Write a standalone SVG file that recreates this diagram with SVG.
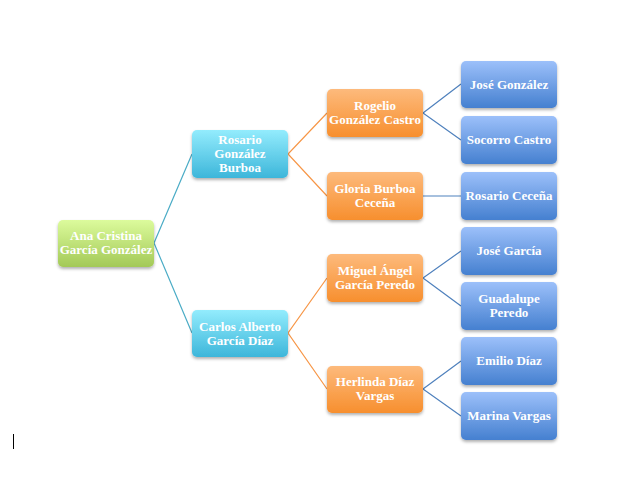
<svg xmlns="http://www.w3.org/2000/svg" width="623" height="491" viewBox="0 0 623 491">
<defs>
<linearGradient id="gGreen" x1="0" y1="0" x2="0" y2="1"><stop offset="0" stop-color="#dcfb9c"/><stop offset="1" stop-color="#a3c957"/></linearGradient>
<linearGradient id="gCyan" x1="0" y1="0" x2="0" y2="1"><stop offset="0" stop-color="#93ecfd"/><stop offset="1" stop-color="#3db6da"/></linearGradient>
<linearGradient id="gOrange" x1="0" y1="0" x2="0" y2="1"><stop offset="0" stop-color="#fdba7c"/><stop offset="1" stop-color="#f78f2e"/></linearGradient>
<linearGradient id="gBlue" x1="0" y1="0" x2="0" y2="1"><stop offset="0" stop-color="#9cc0fa"/><stop offset="1" stop-color="#4580d0"/></linearGradient>
<filter id="sh" x="-10%" y="-10%" width="130%" height="140%"><feDropShadow dx="0" dy="2" stdDeviation="1.5" flood-color="#000" flood-opacity="0.3"/></filter>
</defs>
<style>
.box{filter:url(#sh);}
.t{font-family:"Liberation Serif","DejaVu Serif",serif;font-weight:bold;font-size:13px;fill:#ffffff;text-anchor:middle;}
.c1{stroke:#4bacc6;stroke-width:1.2;fill:none;}
.c2{stroke:#f79646;stroke-width:1.2;fill:none;}
.c3{stroke:#4f81bd;stroke-width:1.2;fill:none;}
</style>
<g id="connectors">
<polyline class="c1" points="192,154 154,243 192,333"/>
<polyline class="c2" points="327,113 288,154 327,196"/>
<polyline class="c2" points="327,278 288,333 327,389"/>
<polyline class="c3" points="461,84 423,113 461,140"/>
<line class="c3" x1="423" y1="196" x2="461" y2="196"/>
<polyline class="c3" points="461,251 423,278 461,306"/>
<polyline class="c3" points="461,361 423,389 461,416"/>
</g>
<g id="n-root"><rect class="box" x="58" y="220" width="96" height="47" rx="5" fill="url(#gGreen)"/><text class="t" x="106" y="240">Ana Cristina</text><text class="t" x="106" y="254">García González</text></g>
<g id="n-rosario"><rect class="box" x="192" y="130" width="96" height="48" rx="5" fill="url(#gCyan)"/><text class="t" x="240" y="144">Rosario</text><text class="t" x="240" y="158">González</text><text class="t" x="240" y="172">Burboa</text></g>
<g id="n-carlos"><rect class="box" x="192" y="310" width="96" height="47" rx="5" fill="url(#gCyan)"/><text class="t" x="240" y="331">Carlos Alberto</text><text class="t" x="240" y="345">García Díaz</text></g>
<g id="n-rogelio"><rect class="box" x="327" y="89" width="96" height="48" rx="5" fill="url(#gOrange)"/><text class="t" x="375" y="110">Rogelio</text><text class="t" x="375" y="124">González Castro</text></g>
<g id="n-gloria"><rect class="box" x="327" y="172" width="96" height="48" rx="5" fill="url(#gOrange)"/><text class="t" x="375" y="193">Gloria Burboa</text><text class="t" x="375" y="207">Ceceña</text></g>
<g id="n-miguel"><rect class="box" x="327" y="254" width="96" height="48" rx="5" fill="url(#gOrange)"/><text class="t" x="375" y="275">Miguel Ángel</text><text class="t" x="375" y="289">García Peredo</text></g>
<g id="n-herlinda"><rect class="box" x="327" y="366" width="96" height="47" rx="5" fill="url(#gOrange)"/><text class="t" x="375" y="386">Herlinda Díaz</text><text class="t" x="375" y="400">Vargas</text></g>
<g id="n-josegonzalez"><rect class="box" x="461" y="61" width="96" height="47" rx="5" fill="url(#gBlue)"/><text class="t" x="509" y="89">José González</text></g>
<g id="n-socorro"><rect class="box" x="461" y="116" width="96" height="48" rx="5" fill="url(#gBlue)"/><text class="t" x="509" y="144">Socorro Castro</text></g>
<g id="n-rosarioc"><rect class="box" x="461" y="172" width="96" height="48" rx="5" fill="url(#gBlue)"/><text class="t" x="509" y="200">Rosario Ceceña</text></g>
<g id="n-josegarcia"><rect class="box" x="461" y="227" width="96" height="48" rx="5" fill="url(#gBlue)"/><text class="t" x="509" y="255">José García</text></g>
<g id="n-guadalupe"><rect class="box" x="461" y="282" width="96" height="48" rx="5" fill="url(#gBlue)"/><text class="t" x="509" y="303">Guadalupe</text><text class="t" x="509" y="317">Peredo</text></g>
<g id="n-emilio"><rect class="box" x="461" y="337" width="96" height="48" rx="5" fill="url(#gBlue)"/><text class="t" x="509" y="365">Emilio Díaz</text></g>
<g id="n-marina"><rect class="box" x="461" y="392" width="96" height="48" rx="5" fill="url(#gBlue)"/><text class="t" x="509" y="420">Marina Vargas</text></g>
<line x1="13.5" y1="434" x2="13.5" y2="449" stroke="#000" stroke-width="1"/>
</svg>
